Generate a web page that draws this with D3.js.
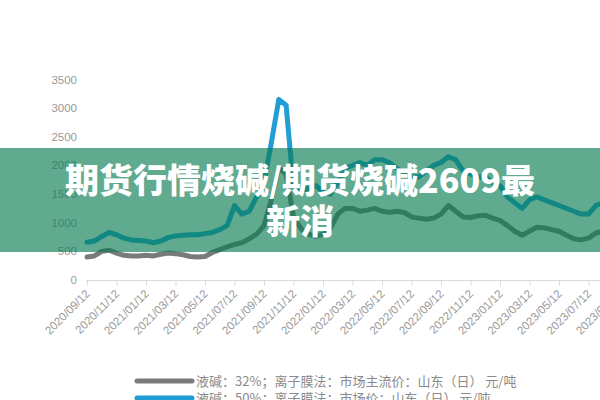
<!DOCTYPE html>
<html><head><meta charset="utf-8">
<script src="https://cdn.jsdelivr.net/npm/d3@7"></script>
<style>html,body{margin:0;padding:0;background:#fff;}svg{display:block;}</style>
</head><body>
<svg id="c" width="600" height="400"></svg>
<script>
// tick labels (every 2 months); data points are half-month steps
const tickLabels = ["2020/09/12","2020/11/12","2021/01/12","2021/03/12","2021/05/12","2021/07/12","2021/09/12","2021/11/12","2022/01/12","2022/03/12","2022/05/12","2022/07/12","2022/09/12","2022/11/12","2023/01/12","2023/03/12","2023/05/12","2023/07/12","2023/09/12"];
const yTicks = [0,500,1000,1500,2000,2500,3000,3500];
// 液碱 32% (gray)
const series32 = [400,420,500,520,470,430,420,420,430,420,450,470,460,440,410,400,410,480,530,580,620,650,720,800,950,1400,1950,1850,1100,900,800,760,800,900,1150,1250,1250,1200,1220,1250,1200,1180,1200,1180,1100,1080,1060,1080,1150,1300,1200,1100,1090,1120,1130,1080,1040,950,850,780,850,920,910,880,850,780,720,700,730,820,850];
// 液碱 50% (blue)
const series50 = [660,680,760,830,790,730,700,690,680,650,680,740,770,780,790,790,810,830,880,950,1300,1150,1200,1450,1700,2400,3150,3050,1600,1550,1600,1650,1550,1500,1700,1950,2000,2050,2000,2100,2100,2050,1950,1850,1800,1800,1900,2000,2050,2150,2100,1900,1850,1800,1800,1700,1650,1450,1350,1250,1400,1450,1400,1350,1300,1250,1200,1150,1150,1300,1350];
const legendNames = ["液碱：32%；离子膜法：市场主流价：山东（日） 元/吨","液碱：50%；离子膜法：市场价：山东（日） 元/吨"];
const colors = ["#7a7a7a","#219ed6"];
const bannerText = ["期货行情烧碱/期货烧碱2609最","新消"];

const svg = d3.select("#c");
const stepsPerTick = 4;
const x = d3.scaleLinear().domain([0, stepsPerTick]).range([87, 87 + 29.5]);
const y = d3.scaleLinear().domain([0, 3500]).range([280, 79.5]);

// y labels
svg.append("g").selectAll("text").data(yTicks).join("text")
  .attr("x", 77).attr("y", d => y(d)).attr("dy", "0.35em")
  .attr("text-anchor", "end").attr("font-family", "Liberation Sans, Arial, sans-serif")
  .attr("font-size", 11.5).attr("fill", "#999").text(d => d);

// x axis
const tickIdx = tickLabels.map((d, i) => i * stepsPerTick);
const xAxis = d3.axisBottom(x).tickValues(tickIdx).tickSize(5).tickFormat((d, i) => tickLabels[i]);
const gx = svg.append("g").attr("transform", "translate(0,280.5)").call(xAxis);
gx.select(".domain").attr("stroke", "#d9d9d9").attr("d", "M86,0H600");
gx.selectAll(".tick line").attr("stroke", "#d9d9d9");
gx.selectAll(".tick text")
  .attr("font-family", "Liberation Sans, Arial, sans-serif").attr("font-size", 11.5)
  .attr("fill", "#999").attr("text-anchor", "end")
  .attr("y", 0).attr("dy", 0)
  .attr("transform", "translate(3,14) rotate(-45)");

// lines
const line = d3.line().x((d, i) => x(i)).y(d => y(d));
[series32, series50].forEach((s, k) => {
  svg.append("path").datum(s).attr("d", line).attr("fill", "none")
    .attr("stroke", colors[k]).attr("stroke-width", 5)
    .attr("stroke-linejoin", "round").attr("stroke-linecap", "round");
});

// legend
legendNames.forEach((n, k) => {
  const ly = 381 + k * 17;
  svg.append("line").attr("x1", 137).attr("x2", 192).attr("y1", ly).attr("y2", ly)
    .attr("stroke", colors[k]).attr("stroke-width", 5).attr("stroke-linecap", "round");
  svg.append("text").attr("x", 196).attr("y", ly).attr("dy", "0.35em")
    .attr("font-family", "Noto Sans CJK SC, sans-serif").attr("font-size", 13)
    .attr("fill", "#8a8a8a").text(n);
});

// banner overlay
svg.append("rect").attr("x", 0).attr("y", 148).attr("width", 600).attr("height", 104)
  .attr("fill", "rgb(10,125,85)").attr("fill-opacity", 0.65);
bannerText.forEach((t, k) => {
  svg.append("text").attr("x", 300).attr("y", 181 + k * 41).attr("dy", "0.35em")
    .attr("text-anchor", "middle").attr("font-family", "Noto Sans CJK SC, sans-serif")
    .attr("font-weight", 900).attr("font-size", 34).attr("fill", "#fff").text(t);
});
</script>
</body></html>
